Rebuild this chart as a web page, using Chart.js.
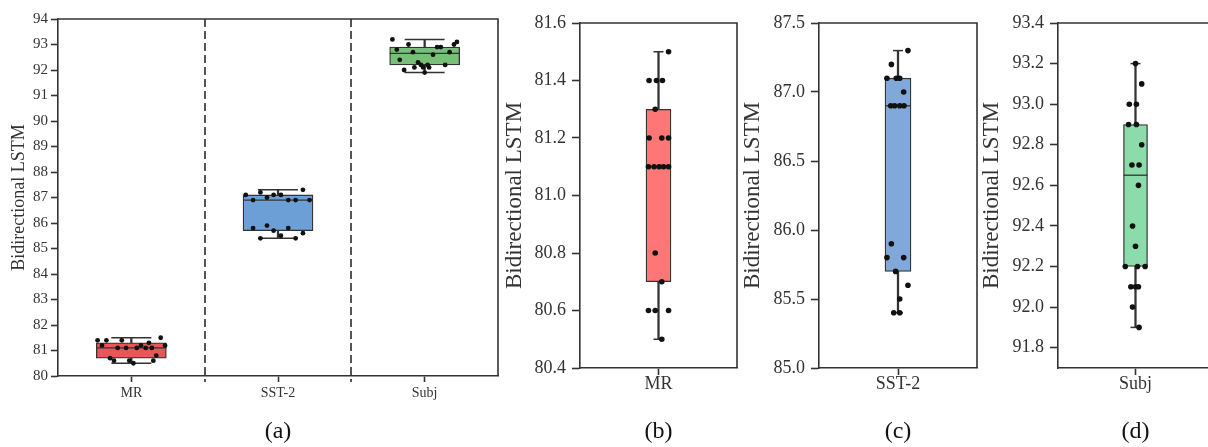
<!DOCTYPE html>
<html>
<head>
<meta charset="utf-8">
<title>Bidirectional LSTM runs</title>
<script src="https://cdn.jsdelivr.net/npm/chart.js@4.4.1/dist/chart.umd.min.js"></script>
<style>
    html, body { margin: 0; padding: 0; background: #fff; overflow: hidden; }
    body { width: 1208px; height: 447px; position: relative; }
    canvas { position: absolute; top: 0; }
</style>
</head>
<body>
<canvas id="chartA" width="505" height="447" style="left:0px"></canvas>
<canvas id="chartB" width="240" height="447" style="left:500px"></canvas>
<canvas id="chartC" width="240" height="447" style="left:740px"></canvas>
<canvas id="chartD" width="236" height="447" style="left:980px"></canvas>
<script>
// DATA
const categories = ['MR', 'SST-2', 'Subj'];

const mrScores   = [81.5, 81.4, 81.4, 81.4, 81.3, 81.2, 81.2, 81.2, 81.1, 81.1, 81.1, 81.1, 81.1, 80.8, 80.7, 80.6, 80.6, 80.6, 80.5];
const sstScores  = [87.3, 87.2, 87.1, 87.1, 87.1, 87.0, 86.9, 86.9, 86.9, 86.9, 85.9, 85.8, 85.8, 85.7, 85.6, 85.5, 85.4, 85.4];
const subjScores = [93.2, 93.1, 93.0, 93.0, 92.9, 92.9, 92.8, 92.7, 92.7, 92.6, 92.4, 92.3, 92.2, 92.2, 92.2, 92.1, 92.1, 92.1, 92.0, 91.9];

// box stats per category
const whiskerLow  = [80.5, 85.4, 91.9];
const q1          = [80.7, 85.7, 92.2];
const median      = [81.1, 86.9, 92.65];
const q3          = [81.3, 87.1, 92.9];
const whiskerHigh = [81.5, 87.3, 93.2];

// horizontal jitter of every dot (fraction of a category slot), panel (a)
const mrJitterA   = [0.20, -0.23, -0.17, -0.065, 0.12, -0.20, 0.066, 0.23, -0.093, -0.036, 0.037, 0.098, 0.14, 0.17, -0.145, -0.118, -0.014, 0.15, 0.014];
const sstJitterA  = [0.17, -0.12, -0.22, -0.03, 0.02, -0.075, -0.17, 0.07, 0.12, 0.215, -0.075, -0.17, 0.07, -0.03, 0.17, 0.02, -0.12, 0.12];
const subjJitterA = [-0.22, 0.22, -0.11, 0.20, 0.085, 0.11, -0.19, -0.08, 0.17, 0.057, -0.17, -0.045, -0.025, 0.02, 0.14, -0.07, -0.01, 0.03, -0.14, 0];
// same for the single panels (b), (c), (d)
const mrJitter    = [0.064, -0.06, -0.013, 0.025, -0.021, -0.06, 0.021, 0.064, -0.064, -0.028, 0.004, 0.032, 0.064, -0.021, 0.021, -0.064, -0.021, 0.064, 0.021];
const sstJitter   = [0.063, -0.042, -0.07, -0.011, 0.011, 0.036, -0.046, -0.021, 0.011, 0.038, -0.042, -0.07, 0.036, -0.015, 0.063, 0.011, -0.027, 0.011];
const subjJitter  = [0, 0.04, -0.04, 0.006, -0.045, 0.006, 0.04, -0.023, 0.023, 0.019, -0.019, 0, -0.066, 0.013, 0.062, -0.03, 0, 0.019, -0.019, 0.023];

// tick labels
const ticksAll  = [80, 81, 82, 83, 84, 85, 86, 87, 88, 89, 90, 91, 92, 93, 94];
const ticksMR   = [80.4, 80.6, 80.8, 81.0, 81.2, 81.4, 81.6];
const ticksSST  = [85.0, 85.5, 86.0, 86.5, 87.0, 87.5];
const ticksSubj = [91.8, 92.0, 92.2, 92.4, 92.6, 92.8, 93.0, 93.2, 93.4];
// DATA

const AXIS = '#333';
const colorsA = ['#E65858', '#6C9FD6', '#78C078'];
const colorsSingle = ['#FF7676', '#80A8D8', '#8CDBAA'];

Chart.defaults.font.family = "'Liberation Serif', 'Times New Roman', serif";
Chart.defaults.color = '#333';

// FRAME + DASHED SEPARATORS
const framePlugin = {
    id: 'frame',
    beforeDatasetsDraw(chart, args, opts) {
        if (!opts.separators) return;
        const ctx = chart.ctx, a = chart.chartArea, xj = chart.scales.xj;
        ctx.save();
        ctx.strokeStyle = '#555';
        ctx.lineWidth = 2;
        ctx.setLineDash([8, 4]);
        for (let k = 0; k < chart.data.labels.length - 1; k++) {
            const x = Math.round(xj.getPixelForValue(k + 0.5));
            ctx.beginPath();
            ctx.moveTo(x, a.top);
            ctx.lineTo(x, a.bottom + 6);
            ctx.stroke();
        }
        ctx.restore();
    },
    afterDraw(chart) {
        const ctx = chart.ctx, a = chart.chartArea;
        ctx.save();
        ctx.strokeStyle = AXIS;
        ctx.lineWidth = 1.6;
        ctx.beginPath();
        ctx.moveTo(a.left, a.top);
        ctx.lineTo(a.right, a.top);
        ctx.lineTo(a.right, a.bottom);
        ctx.stroke();
        ctx.restore();
    }
};

// BOX PANEL
function makeBoxChart(id, p) {
    const idx = p.cats;
    const dots = [];
    const caps = [];
    idx.forEach(function(c, k) {
        p.scores[k].forEach(function(v, j) {
            dots.push({x: k + p.jitter[k][j], y: v});
        });
        caps.push({x: k, y: whiskerLow[c]}, {x: k, y: whiskerHigh[c]});
    });

    new Chart(document.getElementById(id), {
        type: 'bar',
        data: {
            labels: idx.map(c => categories[c]),
            datasets: [
                {
                    type: 'scatter', xAxisID: 'xj', data: dots,
                    pointRadius: p.dotR, pointBackgroundColor: '#111', pointBorderWidth: 0, order: 0
                },
                {
                    type: 'scatter', xAxisID: 'xj',
                    data: idx.map((c, k) => ({x: k, y: median[c]})),
                    pointStyle: 'line', pointRadius: p.boxWidth / 2,
                    pointBorderColor: AXIS, pointBorderWidth: 1.3, order: 1
                },
                {
                    type: 'scatter', xAxisID: 'xj', data: caps,
                    pointStyle: 'line', pointRadius: p.capHalf,
                    pointBorderColor: AXIS, pointBorderWidth: 1.5, order: 2
                },
                {
                    data: idx.map(c => [q1[c], q3[c]]),
                    backgroundColor: idx.map(c => p.colors[c]),
                    borderColor: AXIS, borderWidth: 1.3, borderSkipped: false,
                    barThickness: p.boxWidth, grouped: false, order: 3
                },
                {
                    data: idx.map(c => [whiskerLow[c], whiskerHigh[c]]),
                    backgroundColor: AXIS, barThickness: 1.6, grouped: false, order: 4
                }
            ]
        },
        options: {
            responsive: false,
            animation: false,
            events: [],
            devicePixelRatio: 1,
            layout: { padding: p.padding, autoPadding: false },
            plugins: {
                legend: { display: false },
                tooltip: { enabled: false },
                frame: { separators: p.separators }
            },
            scales: {
                x: {
                    type: 'category',
                    offset: true,
                    grid: { offset: false, drawOnChartArea: false, tickLength: p.xTickLen, tickColor: AXIS, tickWidth: 1.6 },
                    border: { color: AXIS, width: 1.6 },
                    ticks: { font: { size: p.tickSize, lineHeight: 1 }, padding: p.xTickPad, color: '#333' },
                    title: { display: true, text: p.caption, font: { size: 24, lineHeight: 1 }, color: '#111', padding: { top: 0, bottom: 3 } },
                    afterFit: function(axis) { axis.height = p.xHeight; }
                },
                xj: { type: 'linear', display: false, offset: false, min: -0.5, max: idx.length - 0.5 },
                y: {
                    min: p.yMin,
                    max: p.yMax,
                    grid: { drawOnChartArea: false, tickLength: p.yTickLen, tickColor: AXIS, tickWidth: 1.6 },
                    border: { color: AXIS, width: 1.6 },
                    ticks: {
                        font: { size: p.yTickSize, lineHeight: 1 }, padding: p.yTickPad, color: '#333',
                        callback: v => v.toFixed(p.decimals)
                    },
                    title: { display: true, text: 'Bidirectional LSTM', font: { size: p.titleSize, lineHeight: 1 }, color: '#333', padding: { top: p.titlePad, bottom: 0 } },
                    afterBuildTicks: function(axis) { axis.ticks = p.yTicks.map(v => ({value: v})); },
                    afterFit: function(axis) { axis.width = p.yWidth; }
                }
            }
        },
        plugins: [framePlugin]
    });
}

// (a) all three datasets
makeBoxChart('chartA', {
    cats: [0, 1, 2], scores: [mrScores, sstScores, subjScores], jitter: [mrJitterA, sstJitterA, subjJitterA],
    colors: colorsA, boxWidth: 70, capHalf: 20, dotR: 2.4, separators: true,
    yMin: 80, yMax: 94, yTicks: ticksAll, decimals: 0,
    padding: { top: 19, right: 7, bottom: 0, left: 0 }, yWidth: 58, xHeight: 71,
    tickSize: 14, yTickSize: 15, xTickLen: 6, xTickPad: 4, yTickLen: 7, yTickPad: 3,
    titleSize: 18, titlePad: 10, caption: '(a)'
});

// (b) MR
makeBoxChart('chartB', {
    cats: [0], scores: [mrScores], jitter: [mrJitter],
    colors: colorsSingle, boxWidth: 25, capHalf: 5, dotR: 2.8, separators: false,
    yMin: 80.4, yMax: 81.6, yTicks: ticksMR, decimals: 1,
    padding: { top: 23, right: 3, bottom: 0, left: 0 }, yWidth: 80, xHeight: 79,
    tickSize: 18, yTickSize: 18, xTickLen: 7, xTickPad: 0, yTickLen: 8, yTickPad: 6,
    titleSize: 23, titlePad: 3.5, caption: '(b)'
});

// (c) SST-2
makeBoxChart('chartC', {
    cats: [1], scores: [sstScores], jitter: [sstJitter],
    colors: colorsSingle, boxWidth: 26, capHalf: 5, dotR: 2.8, separators: false,
    yMin: 85, yMax: 87.5, yTicks: ticksSST, decimals: 1,
    padding: { top: 23, right: 3, bottom: 0, left: 0 }, yWidth: 79, xHeight: 79,
    tickSize: 18, yTickSize: 18, xTickLen: 7, xTickPad: 0, yTickLen: 8, yTickPad: 6,
    titleSize: 23, titlePad: 1.5, caption: '(c)'
});

// (d) Subj
makeBoxChart('chartD', {
    cats: [2], scores: [subjScores], jitter: [subjJitter],
    colors: colorsSingle, boxWidth: 24, capHalf: 5, dotR: 2.8, separators: false,
    yMin: 91.7, yMax: 93.4, yTicks: ticksSubj, decimals: 1,
    padding: { top: 23, right: 3, bottom: 0, left: 0 }, yWidth: 78, xHeight: 79,
    tickSize: 18, yTickSize: 18, xTickLen: 7, xTickPad: 0, yTickLen: 8, yTickPad: 6,
    titleSize: 23, titlePad: 0.5, caption: '(d)'
});
</script>
</body>
</html>
